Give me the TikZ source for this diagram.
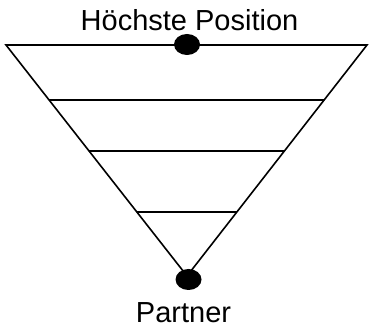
\documentclass[tikz,border=0pt]{standalone}
\usepackage{fontspec}
\setmainfont{Liberation Sans}
\usetikzlibrary{shapes.geometric,calc}

\begin{document}
\begin{tikzpicture}[x=1pt,y=-1pt,edge/.style={line width=1.6pt},rung/.style={line width=1.6pt},dot/.style={ellipse,fill=black,minimum width=26pt,minimum height=21pt,inner sep=0pt},caption/.style={font=\fontsize{29}{34}\selectfont,anchor=base,inner sep=0pt}]
\useasboundingbox (0,0) rectangle (370,328);
\coordinate (L) at (6,45);
\coordinate (R) at (367,45);
\coordinate (P) at (187,276);
\draw[edge] (R) -- (L) -- (P) -- cycle;
\draw[rung] ($(L)!0.238!(P)$) -- ($(R)!0.238!(P)$);
\draw[rung] ($(L)!0.458!(P)$) -- ($(R)!0.458!(P)$);
\draw[rung] ($(L)!0.723!(P)$) -- ($(R)!0.723!(P)$);
\node[dot] (top) at (187,44.5) {};
\node[dot] (bottom) at (188.5,279.5) {};
\node[caption] (toplabel) at (189.5,31) {Höchste Position};
\node[caption] (bottomlabel) at (183.5,323) {Partner};
\end{tikzpicture}
\end{document}
